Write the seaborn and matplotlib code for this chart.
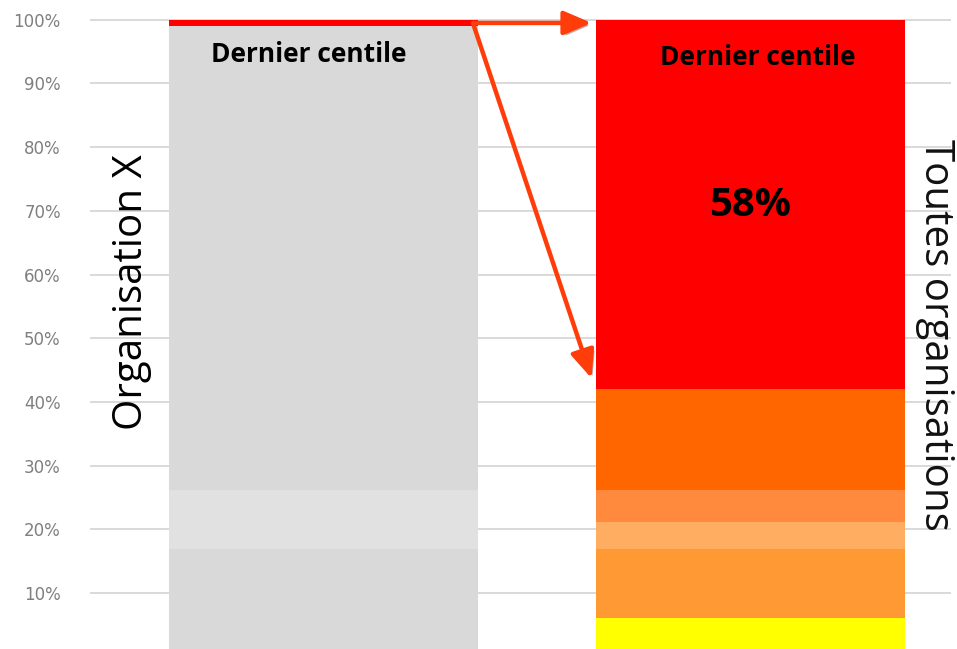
import matplotlib
matplotlib.use("Agg")
import matplotlib.pyplot as plt
import matplotlib.patheffects as pe
import seaborn as sns
import numpy as np

# ---- data ----
categories = ["Organisation X", "Toutes organisations"]
left_values = [16.9, 9.3, 72.8, 1.0]
left_colors = ["#d9d9d9", "#e1e1e1", "#d9d9d9", "#ff0000"]
right_values = [6.1, 10.8, 4.2, 5.1, 15.9, 57.9]
right_colors = ["#ffff00", "#ff9933", "#ffad60", "#ff8a3d", "#ff6600", "#ff0000"]
yticks = [10, 20, 30, 40, 50, 60, 70, 80, 90, 100]
ytick_labels = [f"{v}%" for v in yticks]
top_label = "Dernier centile"
share_label = "58%"

sns.set_theme(style="white")
plt.rcParams['font.family'] = ['Open Sans', 'DejaVu Sans']

fig = plt.figure(figsize=(9.57, 6.49), dpi=100)
ax = fig.add_axes([90/957, 0, (951-90)/957, 1])

BW = 0.724

def draw_stack(cat, values, colors):
    cum = np.cumsum(values)
    # draw from top down so each smaller cumulative bar covers the one before
    for c, col in zip(cum[::-1], colors[::-1]):
        sns.barplot(x=[cat], y=[c], order=categories, color=col, saturation=1,
                    width=BW, linewidth=0, ax=ax, zorder=2)
    return cum

cum_left = draw_stack(categories[0], left_values, left_colors)
cum_right = draw_stack(categories[1], right_values, right_colors)

ax.set_xlim(-0.547, 1.47)
ax.set_ylim(1.2, 103.1)
ax.set_yticks(yticks)
ax.set_yticklabels(ytick_labels, color="#7f7f7f", fontsize=12, family="DejaVu Sans")
ax.tick_params(axis="y", length=0, pad=21)
ax.set_xticks([])
ax.set_xlabel("")
ax.set_ylabel("")
for s in ax.spines.values():
    s.set_visible(False)
ax.yaxis.grid(True, color="#d9d9d9", linewidth=1.4, zorder=0)
ax.set_axisbelow(True)

# labels
ax.text(-0.034, 94.6, top_label, ha="center", va="center", fontsize=19,
        fontweight="bold", color="black", zorder=5)
ax.text(1.017, 94.1, top_label, ha="center", va="center", fontsize=19,
        fontweight="bold", color="black", zorder=5)
ax.text(1.0, 70.9, share_label, ha="center", va="center", fontsize=29,
        fontweight="bold", color="black", zorder=5)

ax.text(-0.45, 57.3, categories[0], rotation=90, ha="center", va="center",
        fontsize=29, color="black", zorder=5)
ax.text(1.433, 50.5, categories[1], rotation=-90, ha="center", va="center",
        fontsize=29, color="#111111", zorder=5)

# arrows from the top centile of organisation X
arrow_col = "#ff3d0a"
x_start = BW / 2 - 0.012
x_end = 1 - BW / 2 - 0.01
y_top = cum_left[-1] - left_values[-1] / 2
shadow = [pe.SimplePatchShadow(offset=(2, -2), alpha=0.35), pe.Normal()]
for y_end in [y_top, cum_right[-2] + 1.6]:
    ax.annotate("", xy=(x_end, y_end), xytext=(x_start, y_top),
                arrowprops=dict(arrowstyle="-|>,head_length=0.42,head_width=0.18",
                                lw=3.2, color=arrow_col,
                                mutation_scale=40, shrinkA=0, shrinkB=0,
                                path_effects=shadow),
                zorder=6)

fig.savefig("out.png", dpi=100)
